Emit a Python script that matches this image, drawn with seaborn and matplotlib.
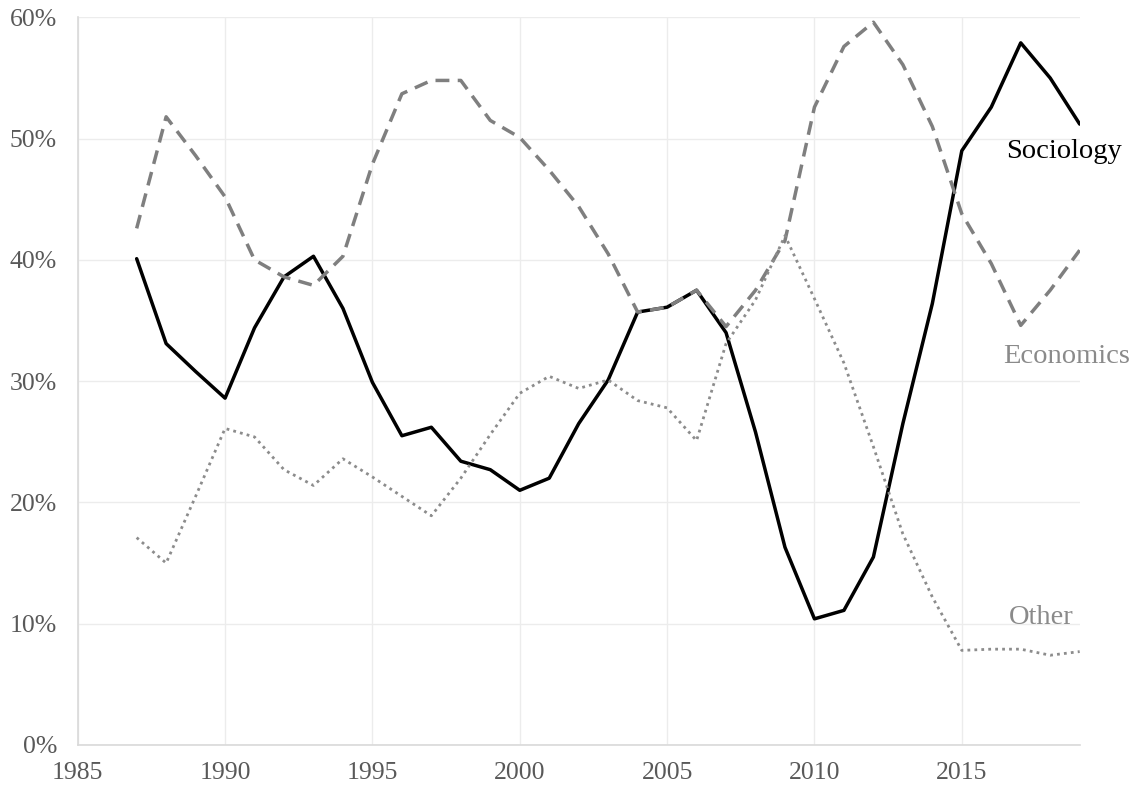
import matplotlib
matplotlib.use("Agg")
from matplotlib import pyplot as plt
from matplotlib.ticker import PercentFormatter
import pandas as pd
import seaborn as sns

years = list(range(1987, 2020))
sociology = [40.1, 33.1, 30.8, 28.6, 34.4, 38.6, 40.3, 36.0, 29.9, 25.5,
             26.2, 23.4, 22.7, 21.0, 22.0, 26.5, 30.1, 35.7, 36.1, 37.5,
             34.0, 25.8, 16.3, 10.4, 11.1, 15.5, 26.5, 36.4, 49.0, 52.6,
             57.9, 55.0, 51.2]
economics = [42.6, 51.8, 48.6, 45.2, 40.0, 38.6, 37.9, 40.3, 47.9, 53.7,
             54.8, 54.8, 51.5, 50.1, 47.4, 44.4, 40.5, 35.7, 36.1, 37.5,
             34.5, 37.5, 41.6, 52.6, 57.6, 59.6, 56.1, 51.0, 43.8, 39.7,
             34.6, 37.5, 40.8]
other = [17.1, 15.0, 20.5, 26.1, 25.4, 22.7, 21.4, 23.6, 22.1, 20.5,
         18.9, 22.0, 25.6, 29.0, 30.4, 29.4, 30.1, 28.4, 27.8, 25.1,
         33.1, 36.7, 42.0, 36.8, 31.5, 24.6, 17.4, 12.2, 7.8, 7.9,
         7.9, 7.4, 7.7]
series_names = ["Sociology", "Economics", "Other"]
x_ticks = [1985, 1990, 1995, 2000, 2005, 2010, 2015]

df = pd.DataFrame({"year": years * 3,
                   "share": sociology + economics + other,
                   "field": [n for n in series_names for _ in years]})

sns.set_style("whitegrid")
plt.rcParams["font.family"] = ["Liberation Serif", "DejaVu Serif"]

fig = plt.figure(figsize=(11.43, 7.90), dpi=100)
ax = fig.add_axes([0.068, 0.057, 0.8766, 0.921])

palette = {"Sociology": "black", "Economics": "#7f7f7f", "Other": "#8c8c8c"}
dashes = {"Sociology": "", "Economics": (4, 2.4), "Other": (1, 1.5)}
sns.lineplot(data=df, x="year", y="share", hue="field", style="field",
             palette=palette, dashes=dashes, linewidth=2.5, ax=ax, legend=False)
# dotted line a bit thinner
ax.lines[2].set_linewidth(2.0)

ax.set_xlim(1985, 2019)
ax.set_ylim(0, 60)
ax.set_xticks(x_ticks)
ax.set_yticks(range(0, 61, 10))
ax.yaxis.set_major_formatter(PercentFormatter(decimals=0))
ax.set_xlabel("")
ax.set_ylabel("")
ax.grid(True, color="#ececec", linewidth=1.0)
ax.tick_params(axis="both", length=0, labelsize=18.5, labelcolor="#595959")
ax.tick_params(axis="x", pad=12)
ax.tick_params(axis="y", pad=15)
for side in ["top", "right"]:
    ax.spines[side].set_visible(False)
for side in ["left", "bottom"]:
    ax.spines[side].set_color("#d9d9d9")
    ax.spines[side].set_linewidth(1.2)

ax.text(2016.5, 48.9, "Sociology", fontsize=20.5, color="black",
        va="center", ha="left", clip_on=False)
ax.text(2016.4, 32.0, "Economics", fontsize=20.5, color="#8a8a8a",
        va="center", ha="left", clip_on=False)
ax.text(2016.6, 10.5, "Other", fontsize=20.5, color="#8a8a8a",
        va="center", ha="left", clip_on=False)

fig.savefig("out.png", dpi=100)
